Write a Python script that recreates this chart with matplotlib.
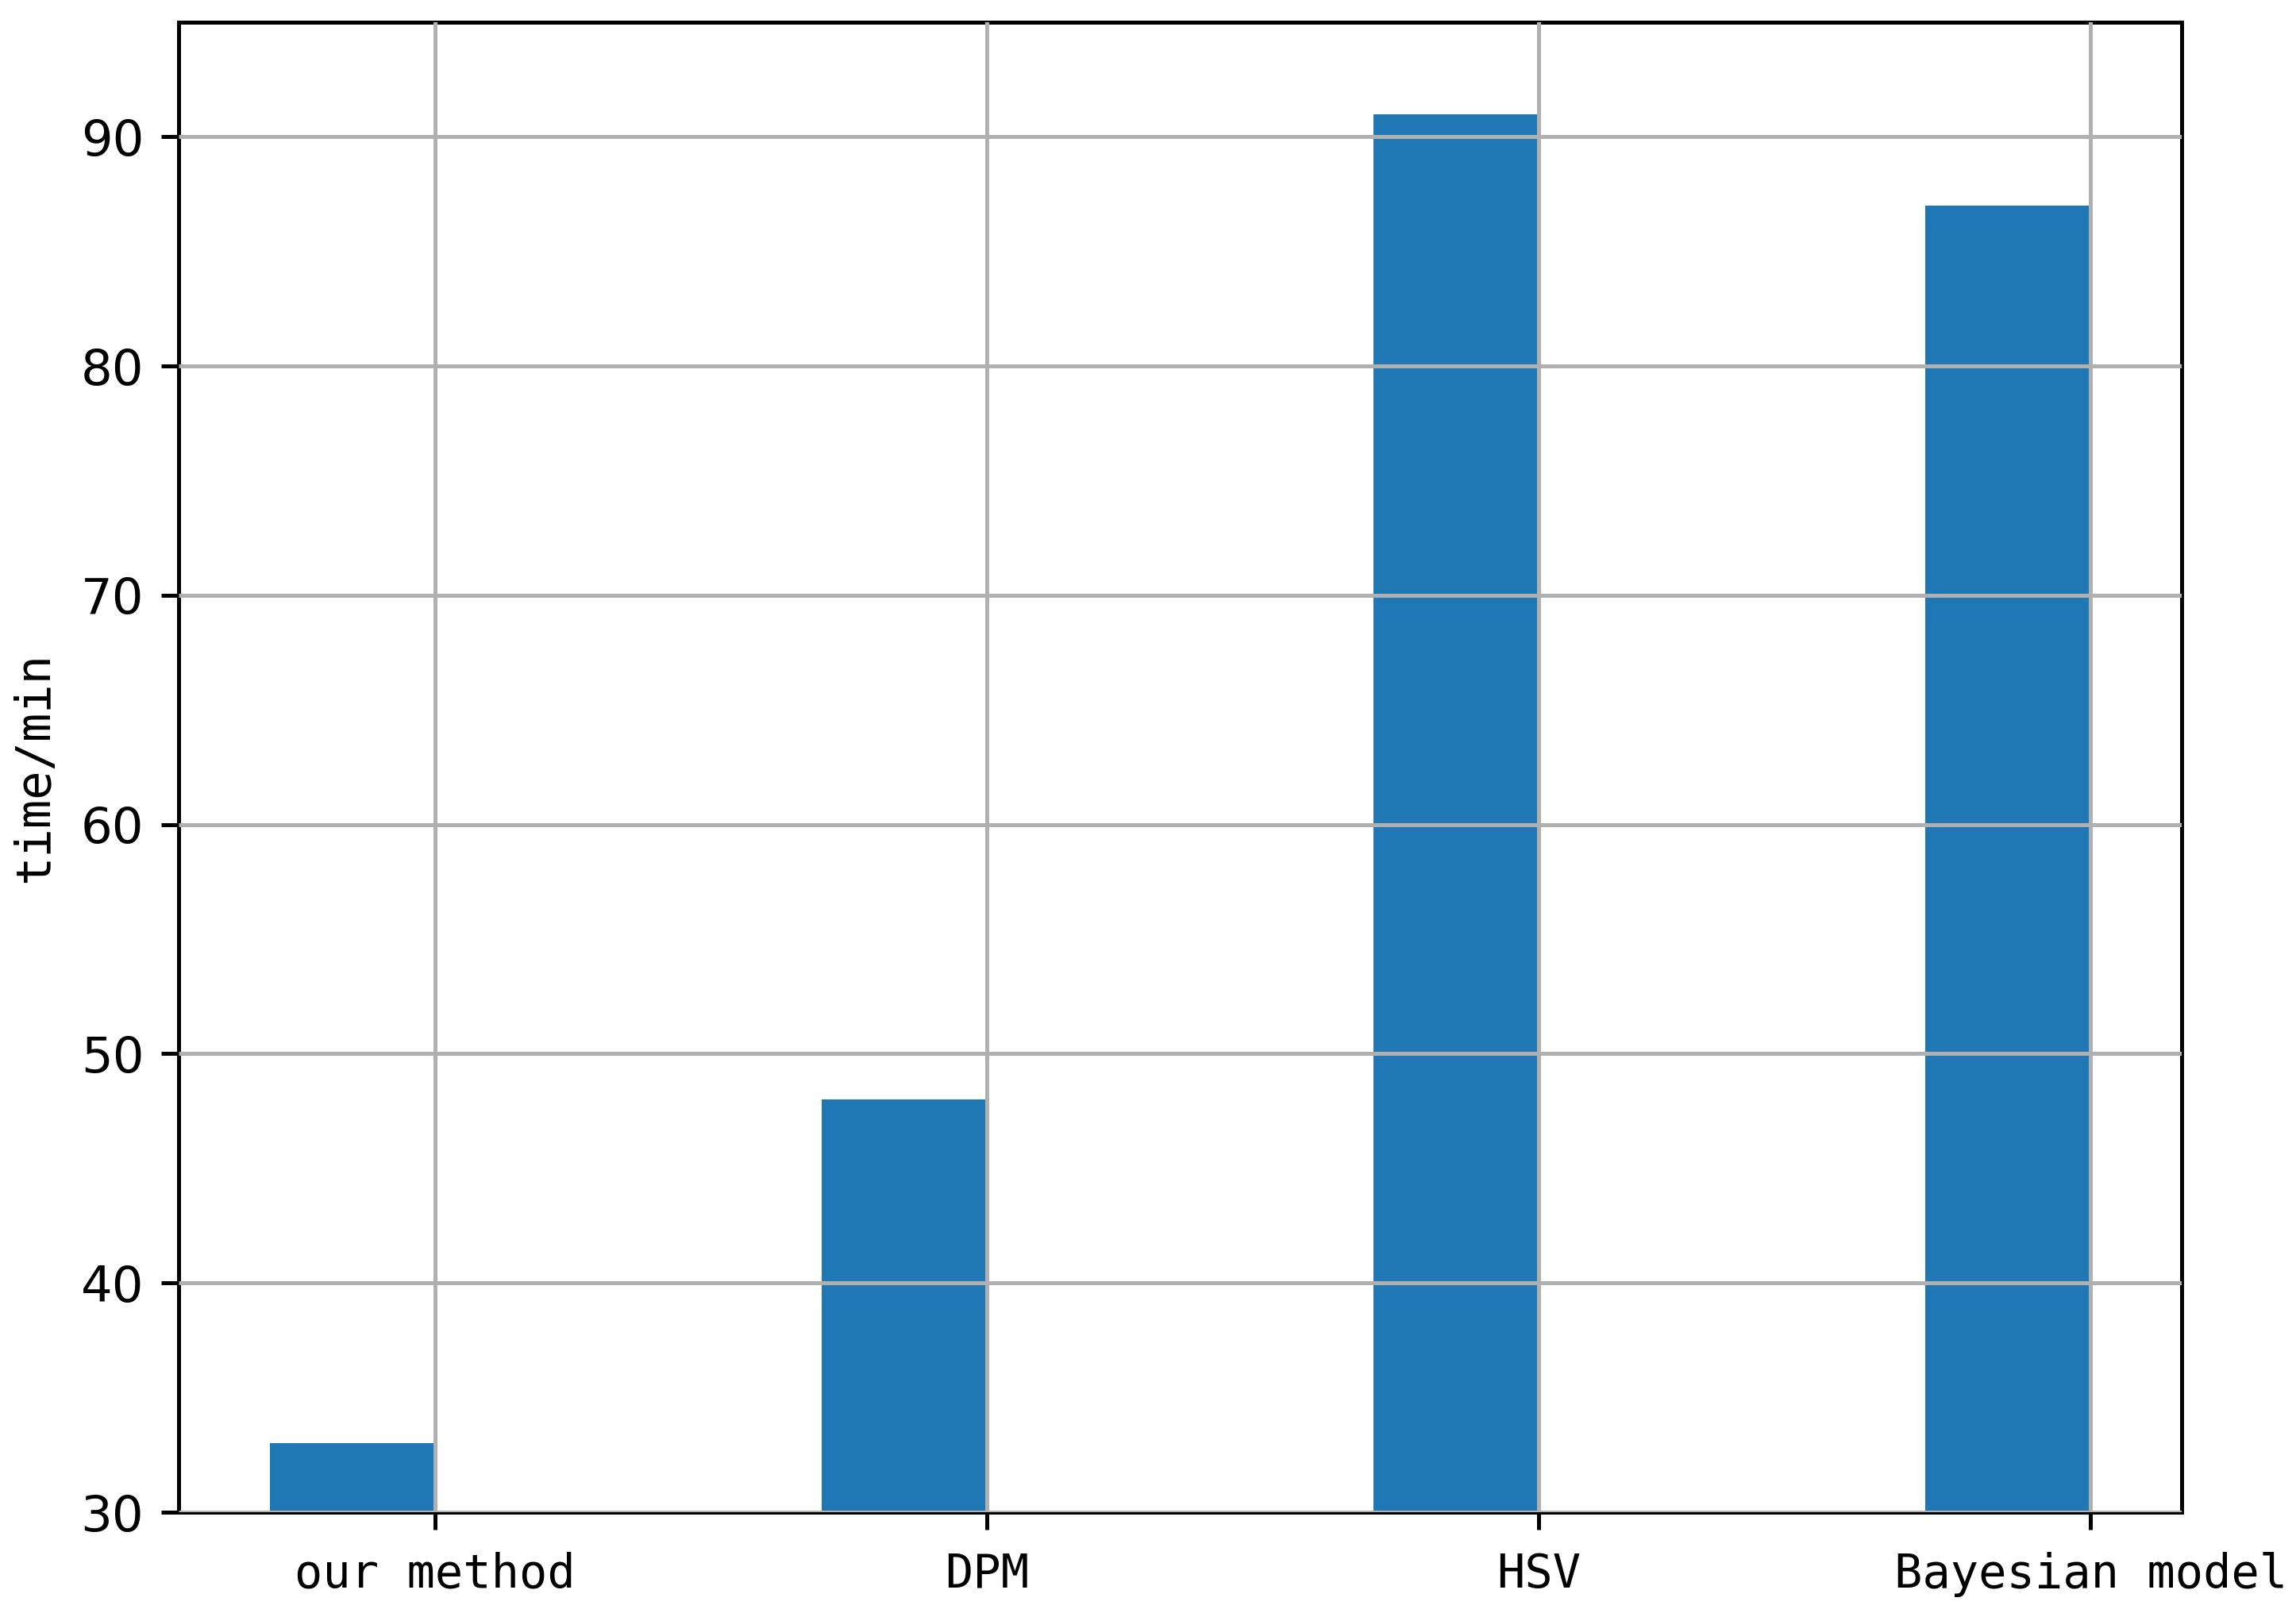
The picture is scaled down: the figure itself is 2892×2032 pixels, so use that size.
import matplotlib
matplotlib.use('Agg')
import matplotlib.pyplot as plt

# data
methods = ['our method', 'DPM', 'HSV', 'Bayesian model']
times = [33, 48, 91, 87]

plt.rcParams['font.family'] = ['DejaVu Sans Mono', 'DejaVu Sans']

fig = plt.figure(figsize=(2892 / 450, 2032 / 450), dpi=450)
ax1 = fig.add_axes([0.0778, 0.0625, 0.9502 - 0.0778, 0.9862 - 0.0625])

x = list(range(len(methods)))
ax1.bar(x, times, width=-0.3, align='edge', color='#1f77b4', zorder=2)
ax1.set_xticks(x)
ax1.set_xticklabels(methods, fontsize=9.4)
ax1.tick_params(axis='x', pad=4.5)
ax1.set_ylim(30, 95)
ax1.set_yticks([30, 40, 50, 60, 70, 80, 90])
ax1.tick_params(axis='y', labelsize=10)
for lab in ax1.get_yticklabels():
    lab.set_family('DejaVu Sans')
ax1.set_ylabel('time/min', fontsize=9.7)
ax1.yaxis.set_label_coords(-0.06, 0.5)
ax1.grid(True, zorder=0)
ax1.set_axisbelow(False)

plt.savefig('out.png', dpi=450)
plt.close()
